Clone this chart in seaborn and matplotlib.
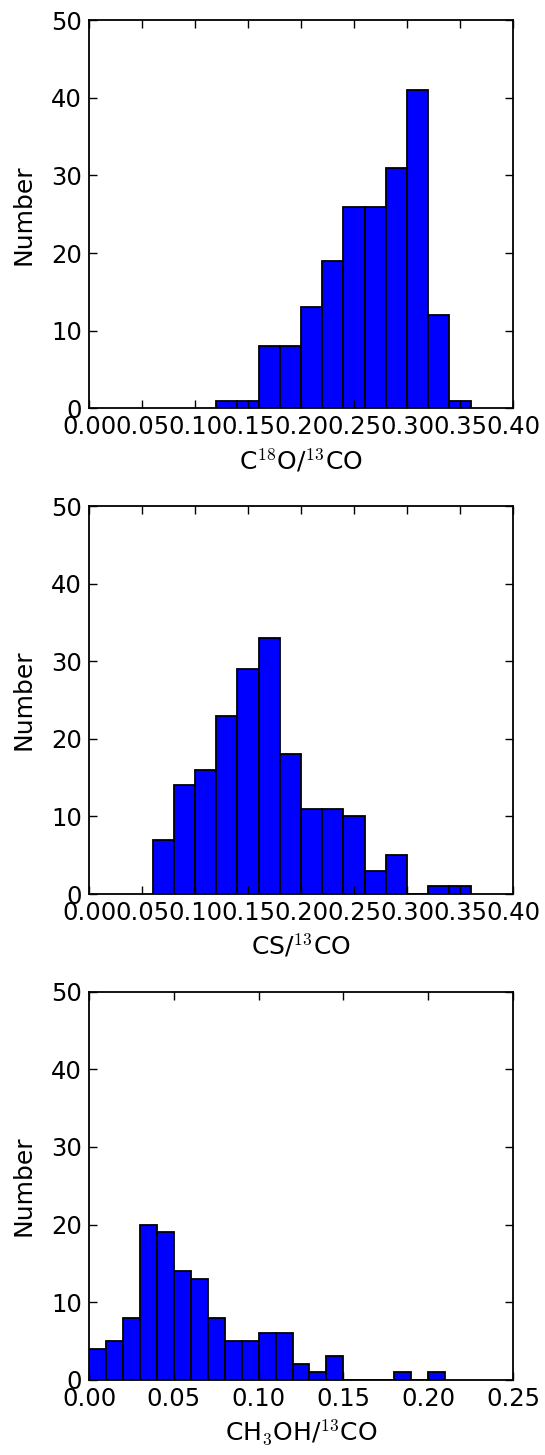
import numpy as np
import pandas as pd
import matplotlib
matplotlib.use("Agg")
import matplotlib.pyplot as plt
import seaborn as sns


# bin edges and counts
C18O_EDGES = [0.12, 0.14, 0.16, 0.18, 0.20, 0.22, 0.24, 0.26, 0.28, 0.30, 0.32, 0.34, 0.36]
C18O_COUNTS = [1, 1, 8, 8, 13, 19, 26, 26, 31, 41, 12, 1]

CS_EDGES = [0.06, 0.08, 0.10, 0.12, 0.14, 0.16, 0.18, 0.20, 0.22, 0.24, 0.26, 0.28,
            0.30, 0.32, 0.34, 0.36]
CS_COUNTS = [7, 14, 16, 23, 29, 33, 18, 11, 11, 10, 3, 5, 0, 1, 1]

CH3OH_EDGES = [0.00, 0.01, 0.02, 0.03, 0.04, 0.05, 0.06, 0.07, 0.08, 0.09, 0.10,
               0.11, 0.12, 0.13, 0.14, 0.15, 0.16, 0.17, 0.18, 0.19, 0.20, 0.21]
CH3OH_COUNTS = [4, 5, 8, 20, 19, 14, 13, 8, 5, 5, 6, 6, 2, 1, 3, 0, 0, 0, 1, 0, 1]

XLABELS = [r"C$^{18}$O/$^{13}$CO", r"CS/$^{13}$CO", r"CH$_3$OH/$^{13}$CO"]
XLIMS = [0.40, 0.40, 0.25]
YTICKS = [0, 10, 20, 30, 40, 50]

TICK_SIZE = 17.5
LABEL_SIZE = 18


def setup_style():
    sns.set_style("ticks")
    plt.rcParams["font.family"] = ["DejaVu Sans"]
    plt.rcParams["mathtext.fontset"] = "cm"
    plt.rcParams["mathtext.default"] = "rm"
    plt.rcParams["text.color"] = "black"
    plt.rcParams["axes.labelcolor"] = "black"
    plt.rcParams["axes.linewidth"] = 1.3
    plt.rcParams["axes.edgecolor"] = "black"
    plt.rcParams["xtick.direction"] = "in"
    plt.rcParams["ytick.direction"] = "in"
    plt.rcParams["xtick.top"] = True
    plt.rcParams["ytick.right"] = True
    plt.rcParams["xtick.major.size"] = 6
    plt.rcParams["ytick.major.size"] = 6
    plt.rcParams["xtick.major.width"] = 1.0
    plt.rcParams["ytick.major.width"] = 1.0
    plt.rcParams["xtick.color"] = "black"
    plt.rcParams["ytick.color"] = "black"
    plt.rcParams["xtick.major.pad"] = 5
    plt.rcParams["ytick.major.pad"] = 5


def draw_hist(ax, edges, counts, xmax, xlabel):
    mids = [(a + b) / 2 for a, b in zip(edges[:-1], edges[1:])]
    df = pd.DataFrame({"value": mids, "count": counts})
    sns.histplot(
        data=df,
        x="value",
        weights="count",
        bins=list(edges),
        color="#0000ff",
        edgecolor="black",
        linewidth=1.3,
        alpha=1,
        ax=ax,
    )
    ticks = np.arange(0, xmax + 0.001, 0.05)
    ax.set_xlim(0, xmax)
    ax.set_ylim(0, 50)
    ax.set_xticks(ticks)
    ax.set_xticklabels([f"{t:.2f}" for t in ticks])
    ax.set_yticks(YTICKS)
    ax.tick_params(labelsize=TICK_SIZE)
    ax.set_xlabel(xlabel, fontsize=LABEL_SIZE, labelpad=5)
    ax.set_ylabel("Number", fontsize=LABEL_SIZE, labelpad=11)
    for spine in ax.spines.values():
        spine.set_visible(True)
        spine.set_zorder(5)
    ax.set_axisbelow(False)


def main():
    setup_style()
    fig = plt.figure(figsize=(5.45, 14.55), dpi=100)

    left, width, height = 89 / 545, 424 / 545, 388 / 1455
    bottoms = [1 - 408.3 / 1455, 1 - 894 / 1455, 1 - 1379.7 / 1455]

    datasets = [
        (C18O_EDGES, C18O_COUNTS),
        (CS_EDGES, CS_COUNTS),
        (CH3OH_EDGES, CH3OH_COUNTS),
    ]

    for i, (edges, counts) in enumerate(datasets):
        ax = fig.add_axes([left, bottoms[i], width, height])
        draw_hist(ax, edges, counts, XLIMS[i], XLABELS[i])

    fig.savefig("out.png", dpi=100, facecolor="white")
    plt.close(fig)


if __name__ == "__main__":
    main()
